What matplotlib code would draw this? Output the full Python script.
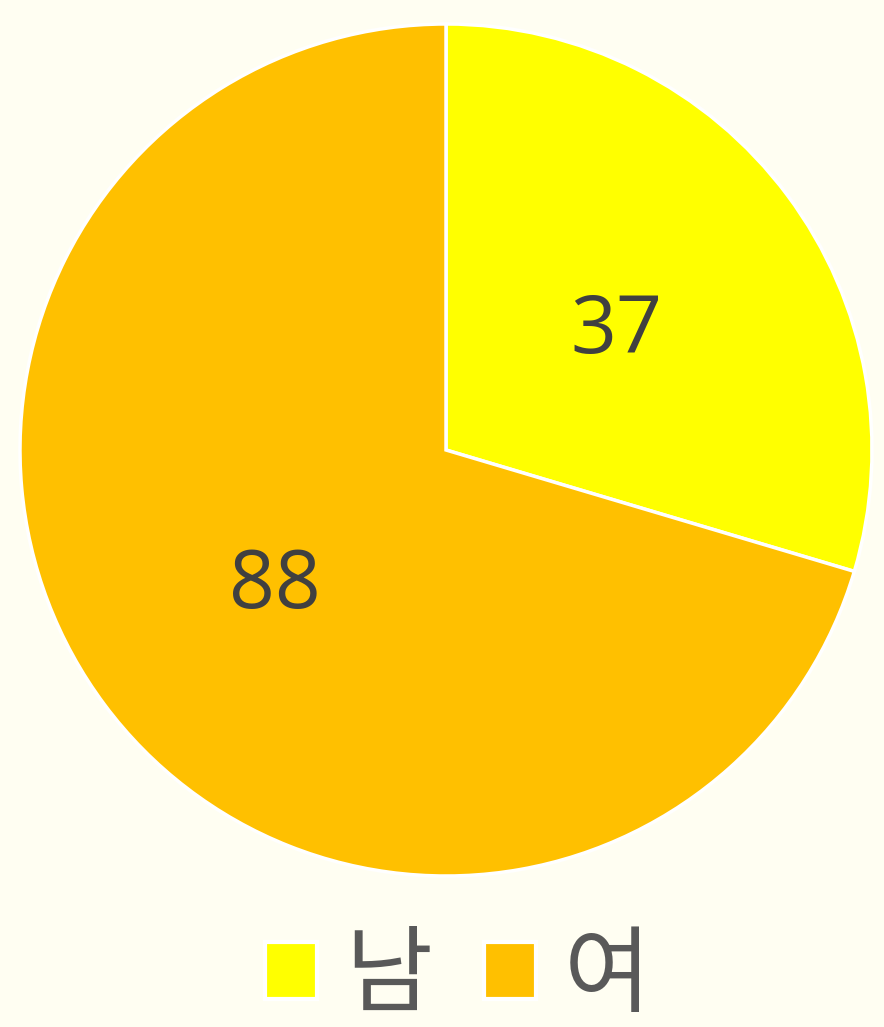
import matplotlib.pyplot as plt
from matplotlib.patches import Patch

# --- Data ---
labels = ["남", "여"]
values = [37, 88]
colors = ["#FFFF00", "#FFC000"]

BG = "#FFFEF2"

plt.rcParams['font.family'] = ['Noto Sans CJK KR', 'DejaVu Sans']

fig = plt.figure(figsize=(8.84, 10.27), dpi=100, facecolor=BG)
# pie centre ~ (446, 450) px, radius ~426 px
ax = fig.add_axes([20 / 884, 151 / 1027, 852 / 884, 852 / 1027])
ax.set_facecolor(BG)

wedges, texts = ax.pie(
    values,
    labels=[str(v) for v in values],
    colors=colors,
    startangle=90,
    counterclock=False,
    labeldistance=0.5,
    radius=1.0,
    wedgeprops=dict(edgecolor="white", linewidth=2.5),
    textprops=dict(fontsize=58, color="#404040", ha="center",
                   va="center_baseline", family="Open Sans"),
)
ax.set_xlim(-1.0, 1.0)
ax.set_ylim(-1.0, 1.0)
ax.set_aspect("equal")
ax.axis("off")

handles = [Patch(facecolor=c, edgecolor="white", linewidth=3) for c in colors]
fig.legend(
    handles, labels,
    loc="center", bbox_to_anchor=(0.518, 0.049),
    ncol=2, frameon=False, borderpad=0.1,
    fontsize=68, labelcolor="#595959",
    handlelength=0.55, handleheight=0.55,
    handletextpad=0.3, columnspacing=0.55,
)

fig.savefig("out.png", dpi=100, facecolor=BG)
